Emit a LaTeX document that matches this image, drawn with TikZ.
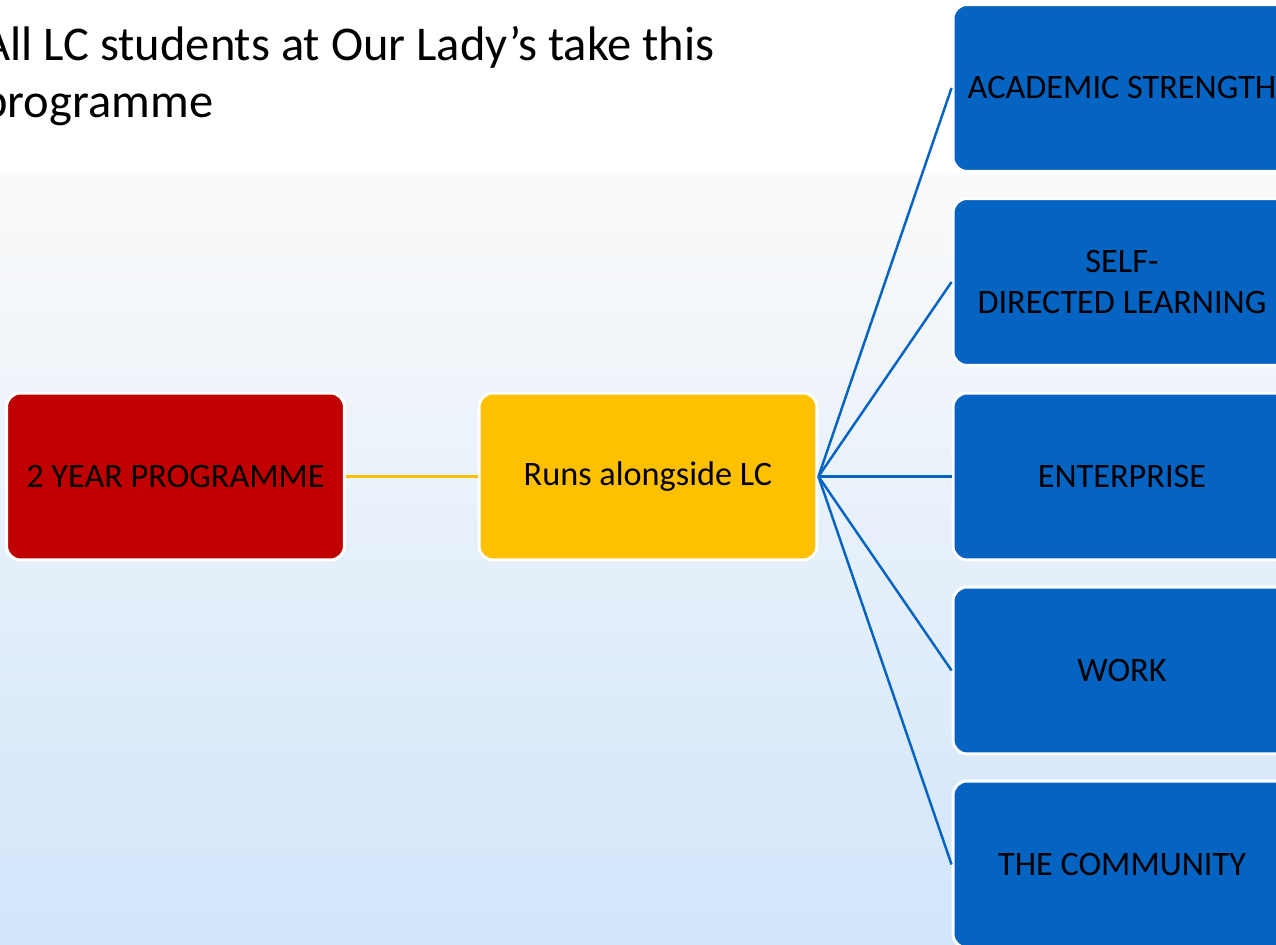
\documentclass[tikz,border=0pt]{standalone}
\usepackage{fontspec}
\setmainfont{Carlito}
\definecolor{progred}{HTML}{C00000}
\definecolor{runsyellow}{HTML}{FFC000}
\definecolor{strandblue}{HTML}{0563C1}
\definecolor{bgtop}{HTML}{FAFAFA}
\definecolor{bgmid}{HTML}{EEF4FB}
\definecolor{bgbot}{HTML}{D1E5FA}
\tikzset{
  box/.style={rectangle, rounded corners=0.28cm, draw=white, line width=1.7pt,
    minimum width=6.76cm, minimum height=3.34cm, align=center, text=black,
    font=\fontsize{19.5}{23.4}\selectfont},
  yellowlink/.style={draw=runsyellow, line width=1.4pt},
  bluelink/.style={draw=strandblue, line width=1.4pt}
}
\begin{document}
\begin{tikzpicture}[x=0.02cm, y=-0.02cm]
  \useasboundingbox (0,0) rectangle (1276,945);
  \fill[white] (0,0) rectangle (1276,945);
  \shade[top color=bgtop, middle color=bgmid, bottom color=bgbot] (0,176) rectangle (1276,945);
  \node[anchor=base west, align=left, inner sep=0,
    font=\fontsize{27.6}{33}\selectfont] (title) at (-18,118)
    {All LC students at Our Lady’s take this\\programme};
  \node[box, fill=progred] (prog) at (175.5,476.5) {2 YEAR PROGRAMME};
  \node[box, fill=runsyellow] (runs) at (648,476.5) {Runs alongside LC};
  \node[box, fill=strandblue] (acad) at (1122,88) {ACADEMIC STRENGTH};
  \node[box, fill=strandblue] (selfdir) at (1122,282) {SELF-\\DIRECTED LEARNING};
  \node[box, fill=strandblue] (enter) at (1122,476.5) {ENTERPRISE};
  \node[box, fill=strandblue] (work) at (1122,670.5) {WORK};
  \node[box, fill=strandblue] (comm) at (1122,864.5) {THE COMMUNITY};
  \draw[yellowlink] (prog) -- (runs);
  \foreach \strand in {acad,selfdir,enter,work,comm}
    \draw[bluelink] (runs.east) -- (\strand.west);
\end{tikzpicture}
\end{document}
